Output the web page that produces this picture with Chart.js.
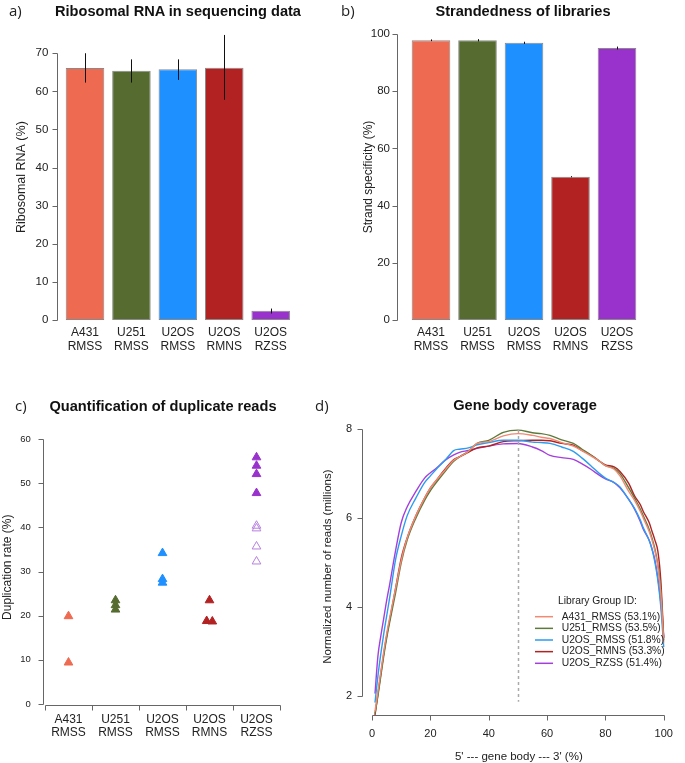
<!DOCTYPE html>
<html>
<head>
<meta charset="utf-8">
<script src="https://cdn.jsdelivr.net/npm/chart.js@4.4.1/dist/chart.umd.min.js"></script>
<style>
  body { margin: 0; background: #fff; }
  #wrap { position: relative; width: 685px; height: 763px; overflow: hidden; font-family: "Liberation Sans", Arial, sans-serif; }
  canvas { position: absolute; }
  .ttl { position: absolute; font-weight: bold; font-size: 14.6px; color: #111; transform: translate(-50%, -50%); white-space: nowrap; }
  .tag { position: absolute; font-family: "Open Sans", sans-serif; font-size: 15px; color: #222; transform: translateY(-50%); }
</style>
</head>
<body>
<div id="wrap">
  <canvas id="rrnaChart" width="340" height="380" style="left:0;top:0"></canvas>
  <canvas id="strandChart" width="345" height="380" style="left:340px;top:0"></canvas>
  <canvas id="dupChart" width="340" height="383" style="left:0;top:380px"></canvas>
  <canvas id="covChart" width="375" height="383" style="left:310px;top:380px"></canvas>

  <span class="tag" style="left:9px;top:10px">a)</span>
  <span class="ttl" style="left:178px;top:11px">Ribosomal RNA in sequencing data</span>
  <span class="tag" style="left:341px;top:10px">b)</span>
  <span class="ttl" style="left:523px;top:11px">Strandedness of libraries</span>
  <span class="tag" style="left:15px;top:405px">c)</span>
  <span class="ttl" style="left:163px;top:406px">Quantification of duplicate reads</span>
  <span class="tag" style="left:315px;top:405px">d)</span>
  <span class="ttl" style="left:525px;top:405px">Gene body coverage</span>
</div>

<script>
// ---- data ----
const cellLines = ["A431", "U251", "U2OS", "U2OS", "U2OS"];
const protocols = ["RMSS", "RMSS", "RMSS", "RMNS", "RZSS"];
const groupColors = ["#EE6A50", "#556B2F", "#1E90FF", "#B22222", "#9932CC"];

// a) ribosomal RNA (%)
const rrnaMean = [66.1, 65.4, 65.8, 66.2, 2.4];
const rrnaLow  = [62.3, 62.3, 63.0, 57.8, 1.7];
const rrnaHigh = [70.0, 68.4, 68.4, 74.8, 3.0];
const rrnaTicks = [0, 10, 20, 30, 40, 50, 60, 70];

// b) strand specificity (%)
const strandMean = [97.8, 97.8, 96.9, 50.1, 95.1];
const strandLow  = [97.5, 97.4, 96.5, 49.9, 94.6];
const strandHigh = [98.1, 98.2, 97.3, 50.3, 95.6];
const strandTicks = [0, 20, 40, 60, 80, 100];

// c) duplication rate (%)
const dupA431 = [19.9, 9.4];
const dupU251 = [23.5, 22.4, 21.4];
const dupU2OS = [34.2, 28.3, 27.5];
const dupRMNS = [23.5, 18.8, 18.7];
const dupRMNSPos = [4, 3.94, 4.06];
const dupRZSSFilled = [55.9, 54.0, 52.1, 47.8];
const dupRZSSOpen = [40.4, 39.8, 35.7, 32.3];
const dupTicks = [0, 10, 20, 30, 40, 50, 60];

// d) gene body coverage (millions of reads)
const covX = [1,2,3,4,5,6,8,10,12,15,18,20,22,25,28,30,33,36,40,45,50,55,58,61,65,69,72,75,78,80,83,85,88,90,92,93,95,96,97,98,99,100];
const covA431 = [1.65,2.1,2.55,3.0,3.4,3.75,4.4,5.05,5.55,6.05,6.45,6.68,6.85,7.08,7.3,7.38,7.5,7.68,7.72,7.85,7.9,7.86,7.82,7.79,7.7,7.62,7.52,7.4,7.28,7.18,7.1,6.95,6.6,6.4,6.15,6.0,5.7,5.5,5.25,4.9,4.3,3.2];
const covU251 = [1.6,2.0,2.45,2.9,3.3,3.65,4.3,5.0,5.5,6.0,6.4,6.62,6.8,7.05,7.28,7.38,7.5,7.68,7.75,7.93,7.98,7.92,7.9,7.86,7.76,7.68,7.55,7.42,7.28,7.18,7.12,7.0,6.68,6.45,6.2,6.05,5.75,5.55,5.3,4.95,4.4,3.25];
const covU2OSRMSS = [1.85,2.45,2.95,3.4,3.8,4.2,5.05,5.6,6.05,6.45,6.8,6.95,7.1,7.3,7.52,7.55,7.58,7.65,7.7,7.75,7.75,7.71,7.7,7.68,7.6,7.5,7.35,7.18,7.0,6.9,6.8,6.7,6.42,6.22,5.95,5.78,5.5,5.3,5.0,4.6,4.0,3.1];
const covU2OSRMNS = [1.57,2.05,2.5,2.95,3.35,3.7,4.4,5.1,5.55,6.05,6.45,6.68,6.85,7.1,7.32,7.38,7.48,7.58,7.62,7.72,7.74,7.75,7.75,7.74,7.68,7.64,7.52,7.42,7.28,7.2,7.15,7.05,6.78,6.5,6.3,6.15,5.9,5.7,5.5,5.25,4.6,3.3];
const covU2OSRZSS = [2.05,2.9,3.35,3.75,4.15,4.5,5.25,5.9,6.25,6.6,6.9,7.02,7.12,7.3,7.42,7.48,7.52,7.57,7.62,7.67,7.68,7.6,7.52,7.41,7.36,7.32,7.22,7.1,6.96,6.88,6.8,6.68,6.42,6.2,5.92,5.75,5.5,5.3,5.05,4.65,4.1,3.33];
const covLabels = ["A431_RMSS (53.1%)", "U251_RMSS (53.5%)", "U2OS_RMSS (51.8%)", "U2OS_RMNS (53.3%)", "U2OS_RZSS (51.4%)"];
const covColors = ["#F08A74", "#5E7A3A", "#2C9BF0", "#B22222", "#A43FDC"];
const covXTicks = [0, 20, 40, 60, 80, 100];
const covYTicks = [2, 4, 6, 8];

const groupLabels = cellLines.map((c, i) => [c, protocols[i]]);

Chart.defaults.font.family = '"Liberation Sans", Arial, sans-serif';
Chart.defaults.color = "#222";
Chart.defaults.animation = false;

// R-style axes: line only between first and last tick, ticks pointing out
const rAxis = {
  id: "rAxis",
  afterDraw(chart, args, o) {
    const { ctx, chartArea: ca, scales } = chart;
    ctx.save();
    ctx.strokeStyle = "#666";
    ctx.lineWidth = 1;
    ctx.beginPath();
    if (o.y) {
      const y = scales.y;
      const px = Math.round(ca.left + o.y.shift) + 0.5;
      const ps = y.ticks.map(t => Math.round(y.getPixelForValue(t.value)) + 0.5);
      ctx.moveTo(px, Math.min(...ps));
      ctx.lineTo(px, Math.max(...ps));
      ps.forEach(p => { ctx.moveTo(px, p); ctx.lineTo(px - 5, p); });
    }
    if (o.x) {
      const x = scales.x;
      const py = Math.round(ca.bottom + o.x.shift) + 0.5;
      const ps = o.x.ticks.map(v => Math.round(x.getPixelForValue(v)) + 0.5);
      ctx.moveTo(Math.min(...ps), py);
      ctx.lineTo(Math.max(...ps), py);
      ps.forEach(p => { ctx.moveTo(p, py); ctx.lineTo(p, py + 5); });
    }
    ctx.stroke();
    ctx.restore();
  }
};

const errBars = {
  id: "errBars",
  afterDatasetsDraw(chart, args, o) {
    if (!o.low) return;
    const { ctx, scales: { x, y } } = chart;
    ctx.save();
    ctx.strokeStyle = "#111";
    ctx.lineWidth = 1;
    ctx.beginPath();
    o.low.forEach((lo, i) => {
      const px = Math.round(x.getPixelForValue(i)) + 0.5;
      ctx.moveTo(px, y.getPixelForValue(lo));
      ctx.lineTo(px, y.getPixelForValue(o.high[i]));
    });
    ctx.stroke();
    ctx.restore();
  }
};

function fixedTicks(list) {
  return scale => { scale.ticks = list.map(v => ({ value: v })); };
}

function barChart(id, values, low, high, ticks, ymax, yTitle, dims) {
  return new Chart(document.getElementById(id), {
    type: "bar",
    data: {
      labels: groupLabels,
      datasets: [{
        data: values,
        backgroundColor: groupColors,
        borderColor: "rgba(40,40,40,0.55)",
        borderWidth: 1,
        borderSkipped: false,
        barPercentage: 0.83,
        categoryPercentage: 1
      }]
    },
    options: {
      responsive: false,
      layout: { padding: { top: dims.top, right: dims.right, left: 0, bottom: 0 } },
      plugins: {
        legend: { display: false },
        tooltip: { enabled: false },
        rAxis: { y: { shift: dims.shift } },
        errBars: { low: low, high: high }
      },
      scales: {
        x: {
          grid: { display: false, drawTicks: false },
          border: { display: false },
          ticks: { font: { size: 12, lineHeight: 1.14 }, padding: 6, maxRotation: 0, autoSkip: false },
          afterFit: s => { s.height = 60; }
        },
        y: {
          min: 0, max: ymax,
          afterBuildTicks: fixedTicks(ticks),
          grid: { display: false, drawTicks: false },
          border: { display: false },
          ticks: { font: { size: 11.5 }, padding: dims.pad },
          title: { display: true, text: yTitle, font: { size: dims.tsize }, padding: { top: dims.tpad, bottom: 0 } },
          afterFit: s => { s.width = dims.left; }
        }
      }
    },
    plugins: [rAxis, errBars]
  });
}

// a) and b)
barChart("rrnaChart", rrnaMean, rrnaLow, rrnaHigh, rrnaTicks, 75, "Ribosomal RNA (%)",
  { top: 34.2, right: 46.1, left: 61.8, shift: -5.1, pad: 13.5, tsize: 12.5, tpad: 14 });
barChart("strandChart", strandMean, strandLow, strandHigh, strandTicks, 100, "Strand specificity (%)",
  { top: 34, right: 44.75, left: 67.75, shift: -10.75, pad: 17.75, tsize: 12, tpad: 21 });

// c) duplication rate
const dupSets = [dupA431, dupU251, dupU2OS, dupRMNS, dupRZSSFilled].map((vals, g) => ({
  data: vals.map((v, i) => ({ x: g === 3 ? dupRMNSPos[i] : g + 1, y: v })),
  pointStyle: "triangle",
  pointRadius: 5,
  backgroundColor: groupColors[g],
  borderColor: groupColors[g],
  borderWidth: 1
}));
dupSets.push({
  data: dupRZSSOpen.map(v => ({ x: 5, y: v })),
  pointStyle: "triangle",
  pointRadius: 5,
  backgroundColor: "rgba(255,255,255,0)",
  borderColor: "#B780DE",
  borderWidth: 1
});

new Chart(document.getElementById("dupChart"), {
  type: "scatter",
  data: { datasets: dupSets },
  options: {
    responsive: false,
    layout: { padding: { top: 50.4, right: 60, left: 0, bottom: 0 } },
    plugins: {
      legend: { display: false },
      tooltip: { enabled: false },
      rAxis: { y: { shift: -2.3 }, x: { shift: 1, ticks: [0.5, 1.5, 2.5, 3.5, 4.5, 5.5] } }
    },
    scales: {
      x: {
        type: "linear", min: 0.5, max: 5.5,
        afterBuildTicks: fixedTicks([1, 2, 3, 4, 5]),
        grid: { display: false, drawTicks: false },
        border: { display: false },
        ticks: { font: { size: 12, lineHeight: 1.11 }, padding: 9, maxRotation: 0, autoSkip: false,
                 callback: v => groupLabels[v - 1] },
        afterFit: s => { s.height = 59; }
      },
      y: {
        min: 0, max: 62,
        afterBuildTicks: fixedTicks(dupTicks),
        grid: { display: false, drawTicks: false },
        border: { display: false },
        ticks: { font: { size: 9.5 }, padding: 14.3 },
        title: { display: true, text: "Duplication rate (%)", font: { size: 12 }, padding: { top: 0.5, bottom: 0 } },
        afterFit: s => { s.width = 45; }
      }
    }
  },
  plugins: [rAxis]
});

// d) gene body coverage
const covSeries = [covA431, covU251, covU2OSRMSS, covU2OSRMNS, covU2OSRZSS];

const covExtras = {
  id: "covExtras",
  afterDatasetsDraw(chart, args, o) {
    const { ctx, scales: { x, y } } = chart;
    ctx.save();
    // dashed mid line
    ctx.strokeStyle = "#aaa";
    ctx.lineWidth = 1.5;
    ctx.setLineDash([3, 3]);
    ctx.beginPath();
    const px = Math.round(x.getPixelForValue(o.mid.x)) + 0.5;
    ctx.moveTo(px, y.getPixelForValue(o.mid.to));
    ctx.lineTo(px, y.getPixelForValue(o.mid.from));
    ctx.stroke();
    ctx.setLineDash([]);
    // legend
    ctx.fillStyle = "#222";
    ctx.font = '10.3px "Liberation Sans", Arial, sans-serif';
    ctx.textBaseline = "middle";
    ctx.textAlign = "center";
    ctx.fillText(o.legend.title, o.legend.cx, o.legend.ty);
    ctx.textAlign = "left";
    ctx.lineWidth = 1.5;
    chart.data.datasets.forEach((ds, i) => {
      const ry = o.legend.y0 + i * o.legend.dy;
      ctx.strokeStyle = ds.borderColor;
      ctx.beginPath();
      ctx.moveTo(o.legend.x0, ry);
      ctx.lineTo(o.legend.x1, ry);
      ctx.stroke();
      ctx.fillText(ds.label, o.legend.tx, ry);
    });
    ctx.restore();
  }
};

new Chart(document.getElementById("covChart"), {
  type: "line",
  data: {
    datasets: covSeries.map((s, i) => ({
      label: covLabels[i],
      data: covX.map((xv, k) => ({ x: xv, y: s[k] })),
      borderColor: covColors[i],
      borderWidth: 1.4,
      pointRadius: 0,
      cubicInterpolationMode: "monotone",
      fill: false
    }))
  },
  options: {
    responsive: false,
    layout: { padding: { top: 38.1, right: 2.8, left: 0, bottom: 0 } },
    plugins: {
      legend: { display: false },
      tooltip: { enabled: false },
      rAxis: { y: { shift: 0 }, x: { shift: 0, ticks: covXTicks } },
      covExtras: {
        mid: { x: 50, from: 1.87, to: 7.98 },
        legend: { title: "Library Group ID:", cx: 287.5, ty: 220.7, x0: 225, x1: 243, tx: 251.7, y0: 236.7, dy: 11.65 }
      }
    },
    scales: {
      x: {
        type: "linear", min: -3.36, max: 104,
        afterBuildTicks: fixedTicks(covXTicks),
        grid: { display: false, drawTicks: false },
        border: { display: false },
        ticks: { font: { size: 11 }, padding: 12, maxRotation: 0 },
        title: { display: true, text: "5' --- gene body --- 3' (%)", font: { size: 11.5, lineHeight: 1 }, padding: { top: 0, bottom: 0.5 } },
        afterFit: s => { s.height = 48; }
      },
      y: {
        min: 1.57, max: 8.25,
        afterBuildTicks: fixedTicks(covYTicks),
        grid: { display: false, drawTicks: false },
        border: { display: false },
        ticks: { font: { size: 11 }, padding: 10.3 },
        title: { display: true, text: "Normalized number of reads (millions)", font: { size: 11.5 }, padding: { top: 11, bottom: 0 } },
        afterFit: s => { s.width = 52.3; }
      }
    }
  },
  plugins: [rAxis, covExtras]
});
</script>
</body>
</html>
